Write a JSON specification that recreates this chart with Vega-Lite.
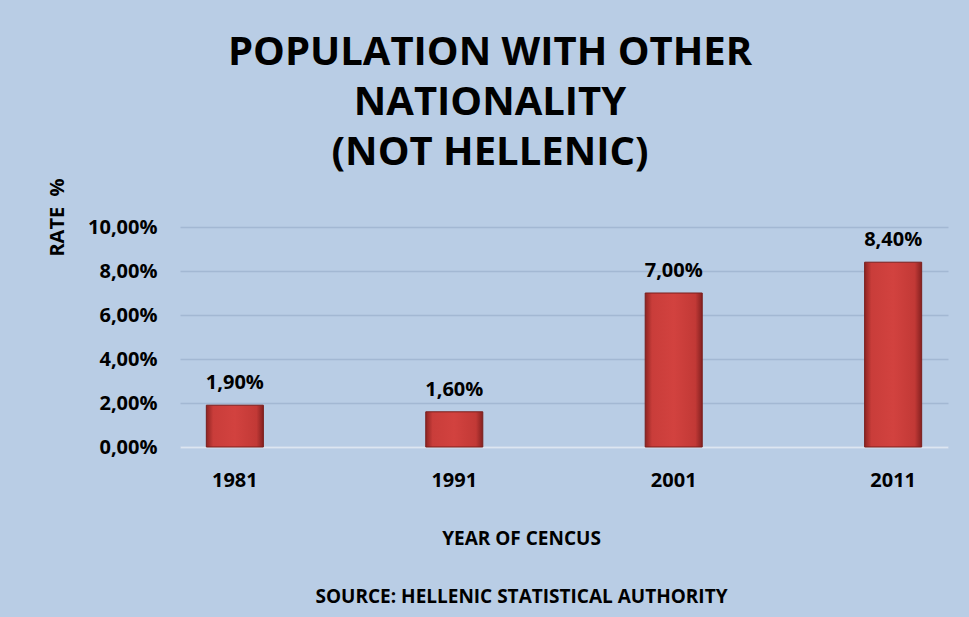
{
  "$schema": "https://vega.github.io/schema/vega-lite/v6.json",
  "width": 768,
  "height": 220,
  "autosize": "none",
  "padding": {"left": 180, "top": 227, "right": 21, "bottom": 170},
  "background": "#b9cde5",
  "config": {
    "locale": {"number": {"decimal": ",", "thousands": ".", "grouping": [3], "currency": ["", "€"]}},
    "view": {"stroke": null},
    "font": "Open Sans"
  },
  "title": {
    "text": ["POPULATION WITH OTHER", "NATIONALITY", "(NOT HELLENIC)"],
    "fontSize": 40,
    "fontWeight": "bold",
    "font": "Open Sans",
    "color": "#000000",
    "lineHeight": 50,
    "anchor": "middle",
    "dx": -74,
    "dy": 5,
    "offset": 10
  },
  "data": {
    "values": [
      {"year": "1981", "rate": 0.019},
      {"year": "1991", "rate": 0.016},
      {"year": "2001", "rate": 0.07},
      {"year": "2011", "rate": 0.084}
    ]
  },
  "encoding": {
    "x": {
      "field": "year",
      "type": "nominal",
      "sort": null,
      "scale": {"paddingInner": 0.74, "paddingOuter": 0.12},
      "axis": {
        "title": ["YEAR OF CENCUS", "SOURCE: HELLENIC STATISTICAL AUTHORITY"],
        "titleX": 341,
        "titleY": 97,
        "titleBaseline": "alphabetic",
        "titleAnchor": null,
        "titleAlign": "center",
        "titleLineHeight": 58,
        "titleFontSize": 19,
        "titleFontWeight": "bold",
        "titleFont": "Open Sans",
        "titleColor": "#000000",
        "labelAngle": 0,
        "labelFontSize": 20,
        "labelFontWeight": "bold",
        "labelFont": "Open Sans",
        "labelColor": "#000000",
        "labelPadding": 23,
        "ticks": false,
        "tickSize": 0,
        "domainColor": "#dde6f1",
        "domainWidth": 2
      }
    },
    "y": {
      "field": "rate",
      "type": "quantitative",
      "scale": {"domain": [0, 0.1]},
      "axis": {
        "title": "RATE \u00a0%",
        "titleX": -123,
        "titleY": -10,
        "titleAngle": -90,
        "titleAlign": "center",
        "titleBaseline": "middle",
        "titleAnchor": null,
        "titleFontSize": 20,
        "titleFontWeight": "bold",
        "titleFont": "Open Sans",
        "titleColor": "#000000",
        "values": [0, 0.02, 0.04, 0.06, 0.08, 0.1],
        "format": ".2%",
        "labelFontSize": 20,
        "labelFontWeight": "bold",
        "labelFont": "Open Sans",
        "labelColor": "#000000",
        "labelPadding": 23,
        "ticks": false,
        "tickSize": 0,
        "domain": false,
        "gridColor": "#a3b8d3",
        "gridWidth": 1.5
      }
    }
  },
  "layer": [
    {
      "mark": {
        "type": "bar",
        "stroke": "#7a1e1c",
        "strokeWidth": 1,
        "color": {
          "gradient": "linear",
          "x1": 0, "x2": 1, "y1": 0, "y2": 0,
          "stops": [
            {"offset": 0, "color": "#8e2422"},
            {"offset": 0.12, "color": "#c93d3a"},
            {"offset": 0.5, "color": "#d2423f"},
            {"offset": 0.88, "color": "#c23936"},
            {"offset": 1, "color": "#852120"}
          ]
        }
      }
    },
    {
      "mark": {
        "type": "text",
        "baseline": "alphabetic",
        "dy": -16,
        "fontSize": 20,
        "fontWeight": "bold",
        "font": "Open Sans",
        "color": "#000000"
      },
      "encoding": {
        "text": {"field": "rate", "type": "quantitative", "format": ".2%"}
      }
    }
  ]
}
